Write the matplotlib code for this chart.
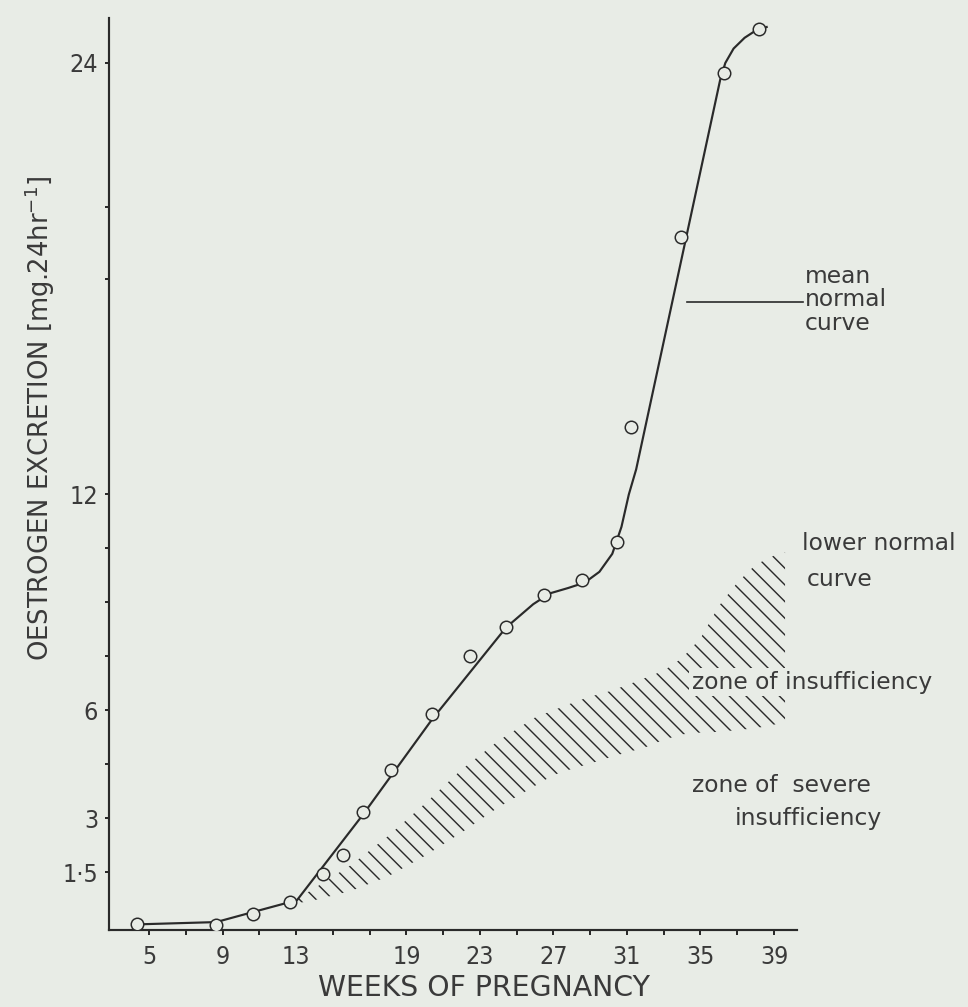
import matplotlib
matplotlib.use('Agg')
import matplotlib.pyplot as plt
from matplotlib.lines import Line2D

# ---------------- data ----------------
point_weeks = [4.35, 8.65, 10.66, 12.67, 14.47, 15.56, 16.64, 18.17, 20.4, 22.46,
               24.42, 26.5, 28.56, 30.46, 31.22, 33.94, 36.28, 38.19]
point_values = [0.05, 0.02, 0.33, 0.67, 1.45, 1.97, 3.17, 4.34, 5.9, 7.5,
                8.31, 9.2, 9.62, 10.68, 13.88, 19.16, 23.72, 24.94]

mean_curve_weeks = [4.6, 8.65, 10.66, 13.05, 16.64, 20.4, 24.42, 25.9, 26.8,
                    27.8, 28.7, 29.5, 30.2, 30.7, 31.1, 31.5, 36.07, 36.35,
                    36.8, 37.4, 38.0, 38.6]
mean_curve_values = [0.05, 0.11, 0.39, 0.72, 3.1, 5.75, 8.3, 8.95, 9.25,
                     9.4, 9.55, 9.85, 10.35, 11.1, 12.0, 12.7, 23.53, 24.0,
                     24.4, 24.7, 24.9, 25.0]

band_weeks = [12.7, 14, 16, 18, 20, 22, 24, 26, 27, 28, 29, 30, 31, 32, 33,
              34, 35, 36, 37, 38, 39, 39.6]
lower_normal_values = [0.65, 1.05, 1.7, 2.5, 3.4, 4.35, 5.15, 5.8, 6.0, 6.2,
                       6.38, 6.52, 6.7, 6.9, 7.1, 7.45, 8.0, 8.9, 9.55, 10.05,
                       10.3, 10.4]
severe_limit_values = [0.6, 0.72, 0.98, 1.38, 1.95, 2.6, 3.3, 3.9, 4.2, 4.37,
                       4.52, 4.68, 4.83, 4.97, 5.18, 5.33, 5.38, 5.4, 5.45, 5.5,
                       5.6, 5.68]

x_tick_weeks = list(range(5, 40, 2))
x_label_weeks = [5, 9, 13, 19, 23, 27, 31, 35, 39]
y_tick_values = [1.5, 3, 6, 12, 24]
y_tick_labels = ['1·5', '3', '6', '12', '24']
y_minor_values = [4.5, 7.5, 9, 10.5, 18, 20]

# ---------------- style ----------------
W, H, DPI = 968, 1007, 100
K = 120 / DPI  # size factor (sizes tuned at 120 dpi)
BG = '#e8ece6'
INK = '#2a2a2a'
TXT = '#3a3a3a'
plt.rcParams['hatch.linewidth'] = 0.85 * K
plt.rcParams['hatch.color'] = INK

fig = plt.figure(figsize=(W / DPI, H / DPI), dpi=DPI, facecolor=BG)


def fx(px):
    return px / W


def fy(py):
    return 1 - py / H


ax = fig.add_axes([fx(109), fy(930), fx(797) - fx(109), fy(18) - fy(930)])
ax.set_facecolor(BG)
ax.set_xlim(2.82, 40.25)
ax.set_ylim(-0.11, 25.25)

for s in ['top', 'right']:
    ax.spines[s].set_visible(False)
for s in ['left', 'bottom']:
    ax.spines[s].set_color(INK)
    ax.spines[s].set_linewidth(1.3 * K)

# hatched zone of insufficiency
ax.fill_between(band_weeks, severe_limit_values, lower_normal_values,
                facecolor='none', edgecolor=INK, linewidth=0, hatch='\\\\',
                zorder=1)

# mean normal curve and observed points
ax.plot(mean_curve_weeks, mean_curve_values, color=INK, lw=1.3 * K, zorder=2)
ax.plot(point_weeks, point_values, linestyle='none', marker='o', ms=7.5 * K,
        mfc=BG, mec=INK, mew=0.9 * K, zorder=3)

# ticks
tick_font = ['Liberation Sans Narrow', 'DejaVu Sans']
ax.set_xticks(x_tick_weeks)
ax.set_xticklabels([str(w) if w in x_label_weeks else '' for w in x_tick_weeks],
                   family=tick_font, stretch='condensed', fontsize=15 * K,
                   color=TXT)
ax.set_yticks(y_tick_values)
ax.set_yticklabels(y_tick_labels, family=tick_font, stretch='condensed',
                   fontsize=15 * K, color=TXT)
ax.set_yticks(y_minor_values, minor=True)
ax.tick_params(axis='x', direction='out', length=3 * K, width=1.2 * K,
               color=INK, pad=6 * K)
ax.tick_params(axis='y', which='both', direction='out', length=2.5 * K,
               width=1.2 * K, color=INK, pad=4 * K)

# axis titles
lab_font = ['DejaVu Sans']
fig.text(fx(484), fy(988), 'WEEKS OF PREGNANCY', ha='center', va='center',
         fontsize=17 * K, color=TXT, family=lab_font)
fig.text(fx(40), fy(418), r'OESTROGEN EXCRETION [mg.24hr$^{\mathregular{-1}}$]',
         rotation=90, ha='center', va='center', fontsize=15.5 * K, color=TXT,
         family=lab_font)

# annotations
ann = dict(fontsize=14 * K, color=TXT, family=lab_font)
fig.text(fx(805), fy(300), 'mean\nnormal\ncurve', ha='left', va='center',
         linespacing=1.05, **ann)
fig.add_artist(Line2D([fx(687), fx(803)], [fy(302), fy(302)],
                      transform=fig.transFigure, color=INK, lw=1.0 * K))
fig.text(fx(802), fy(543), 'lower normal', ha='left', va='center', **ann)
fig.text(fx(807), fy(579), 'curve', ha='left', va='center', **ann)
fig.text(fx(692), fy(682), 'zone of insufficiency', ha='left', va='center',
         bbox=dict(facecolor=BG, edgecolor='none', pad=1.5 * K), zorder=5,
         **ann)
fig.text(fx(692), fy(785), 'zone of  severe', ha='left', va='center', **ann)
fig.text(fx(735), fy(818), 'insufficiency', ha='left', va='center', **ann)

fig.savefig('out.png', dpi=DPI, facecolor=BG)
